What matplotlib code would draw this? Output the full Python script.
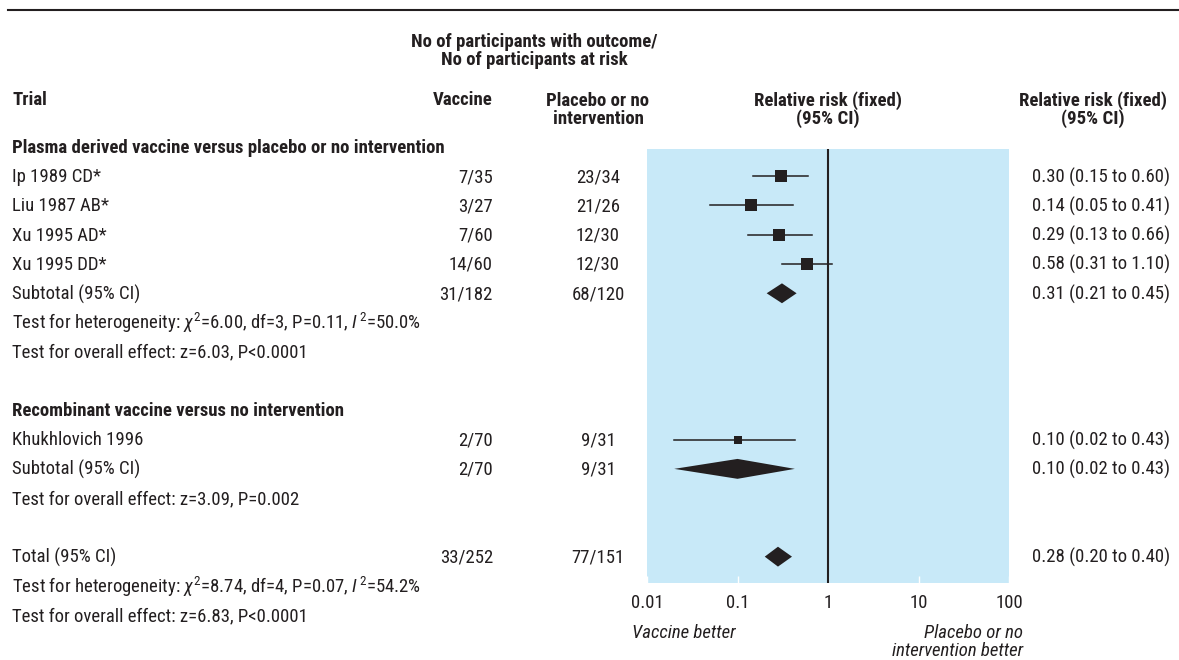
import numpy as np
import matplotlib
matplotlib.use("Agg")
import matplotlib.pyplot as plt
from matplotlib import transforms
from matplotlib.patches import Polygon
from matplotlib.ticker import FixedLocator, FixedFormatter, NullLocator

plt.rcParams['font.family'] = ['Roboto Condensed', 'DejaVu Sans']
plt.rcParams['mathtext.fontset'] = 'custom'
plt.rcParams['mathtext.rm'] = 'Roboto Condensed'
plt.rcParams['mathtext.it'] = 'Roboto Condensed:italic'

# one entry per row of the table, top to bottom
labels = ["Plasma derived vaccine versus placebo or no intervention",
          "Ip 1989 CD*", "Liu 1987 AB*", "Xu 1995 AD*", "Xu 1995 DD*",
          "Subtotal (95% CI)",
          r"Test for heterogeneity: $\chi^2$=6.00, df=3, P=0.11, $I^{\,2}$=50.0%",
          "Test for overall effect: z=6.03, P<0.0001",
          "",
          "Recombinant vaccine versus no intervention",
          "Khukhlovich 1996",
          "Subtotal (95% CI)",
          "Test for overall effect: z=3.09, P=0.002",
          "",
          "Total (95% CI)",
          r"Test for heterogeneity: $\chi^2$=8.74, df=4, P=0.07, $I^{\,2}$=54.2%",
          "Test for overall effect: z=6.83, P<0.0001"]
kind = ["head", "study", "study", "study", "study", "sub", "text", "text", "",
        "head", "study", "sub", "text", "", "sub", "text", "text"]
vaccine = ["", "7/35", "3/27", "7/60", "14/60", "31/182", "", "", "",
           "", "2/70", "2/70", "", "", "33/252", "", ""]
placebo = ["", "23/34", "21/26", "12/30", "12/30", "68/120", "", "", "",
           "", "9/31", "9/31", "", "", "77/151", "", ""]
rr = [None, 0.30, 0.14, 0.29, 0.58, 0.31, None, None, None,
      None, 0.10, 0.10, None, None, 0.28, None, None]
lo = [None, 0.15, 0.05, 0.13, 0.31, 0.21, None, None, None,
      None, 0.02, 0.02, None, None, 0.20, None, None]
hi = [None, 0.60, 0.41, 0.66, 1.10, 0.45, None, None, None,
      None, 0.43, 0.43, None, None, 0.40, None, None]
box = [None, 9, 9, 9, 9, None, None, None, None,
       None, 6, None, None, None, None, None, None]

ink = '#231f20'
W, H = 1179, 660
fig = plt.figure(figsize=(W / 100, H / 100), dpi=100)
fig.add_artist(plt.Line2D([8 / W, 1], [1 - 10 / H, 1 - 10 / H], color=ink, lw=1.5))

ax = fig.add_axes([647 / W, 1 - 583 / H, (1009 - 647) / W, (583 - 149) / H])
ax.set_xscale('log')
ax.set_xlim(0.01, 100)
ax.set_ylim(14.9, 0.07)
ax.set_facecolor('#c8e9f8')
for s in ax.spines.values():
    s.set_visible(False)
ax.yaxis.set_major_locator(NullLocator())
ax.xaxis.set_major_locator(FixedLocator([0.01, 0.1, 1, 10, 100]))
ax.xaxis.set_major_formatter(FixedFormatter(["0.01", "0.1", "1", "10", "100"]))
ax.xaxis.set_minor_locator(NullLocator())
ax.tick_params(axis='x', direction='in', length=5, width=1, color='white',
               labelsize=13.5, labelcolor=ink, pad=8)
ax.axvline(1, color=ink, lw=1.5)

for i in range(len(labels)):
    if rr[i] is None:
        continue
    if kind[i] == "study":
        ax.plot([lo[i], hi[i]], [i, i], color=ink, lw=1.1)
        ax.plot(rr[i], i, marker='s', ms=box[i], color=ink, mew=0)
    else:
        h = 0.34
        ax.add_patch(Polygon([[lo[i], i], [rr[i], i - h], [hi[i], i], [rr[i], i + h]],
                             closed=True, color=ink, lw=0))

tr = transforms.blended_transform_factory(fig.transFigure, ax.transData)
fs = 13.5
for i, lab in enumerate(labels):
    if lab:
        ax.text(12 / W, i + 0.03, lab, transform=tr, ha='left', va='center', fontsize=fs,
                color=ink, fontweight='bold' if kind[i] == "head" else 'normal',
                clip_on=False)
    if vaccine[i]:
        ax.text(493 / W, i + 0.03, vaccine[i], transform=tr, ha='right', va='center',
                fontsize=fs, color=ink)
    if placebo[i]:
        ax.text(598 / W, i + 0.03, placebo[i], transform=tr, ha='center', va='center',
                fontsize=fs, color=ink)
    if rr[i] is not None:
        ax.text(1032 / W, i + 0.03, f"{rr[i]:.2f} ({lo[i]:.2f} to {hi[i]:.2f})",
                transform=tr, ha='left', va='center', fontsize=fs, color=ink)


def ftxt(x, y, s, **kw):
    fig.text(x / W, 1 - y / H, s, fontsize=fs, color=ink, **kw)


ftxt(534, 51, "No of participants with outcome/\nNo of participants at risk",
     ha='center', va='center', fontweight='bold', linespacing=0.95)
ftxt(12, 100, "Trial", ha='left', va='center', fontweight='bold')
ftxt(493, 100, "Vaccine", ha='right', va='center', fontweight='bold')
ftxt(598, 110, "Placebo or no\nintervention", ha='center', va='center',
     fontweight='bold', linespacing=0.95)
ftxt(828, 110, "Relative risk (fixed)\n(95% CI)", ha='center', va='center',
     fontweight='bold', linespacing=0.95)
ftxt(1093, 110, "Relative risk (fixed)\n(95% CI)", ha='center', va='center',
     fontweight='bold', linespacing=0.95)
ftxt(632, 633, "Vaccine better", ha='left', va='center', style='italic')
ftxt(1023, 642, "Placebo or no\nintervention better", ha='right', va='center',
     style='italic', linespacing=0.95)

fig.savefig("out.png", dpi=100)
